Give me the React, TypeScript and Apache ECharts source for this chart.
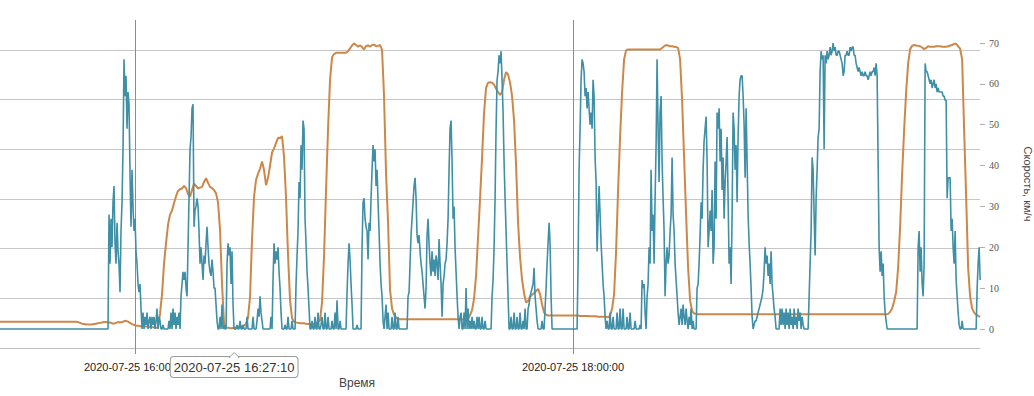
import React, { useEffect, useRef } from "react";
import * as echarts from "echarts";

// ---- data ----
const seriesStartTime = "2020-07-25T15:23:01Z";
const blueStepSec = 16.44;
const orangeStepSec = 32.88;
const axisMinTime = "2020-07-25T15:23:01Z";
const axisMaxTime = "2020-07-25T19:51:30Z";
const xTickTimes = ["2020-07-25T16:00:00Z", "2020-07-25T18:00:00Z"];
const pointerTime = "2020-07-25T16:27:10Z";
const speedTicks = [0, 10, 20, 30, 40, 50, 60, 70];
const gridLevels = { min: 0, max: 6.6, step: 1 };

const speedName = "Скорость, км/ч";
const timeName = "Время";

// orange: speed, km/h
const orangeValues = [
  1.8, 1.8, 1.8, 1.8, 1.8, 1.8, 1.8, 1.8, 1.8, 1.8,
  1.8, 1.8, 1.8, 1.8, 1.8, 1.8, 1.8, 1.8, 1.8, 1.8,
  1.8, 1.8, 1.8, 1.8, 1.8, 1.8, 1.8, 1.8, 1.8, 1.8,
  1.8, 1.8, 1.8, 1.8, 1.8, 1.8, 1.8, 1.8, 1.8, 1.7,
  1.5, 1.3, 1.2, 1.1, 1.1, 1.1, 1.1, 1.2, 1.3, 1.4,
  1.5, 1.6, 1.7, 1.7, 1.6, 1.6, 1.4, 1.3, 1.5, 1.7,
  1.6, 1.7, 1.9, 2.0, 1.8, 1.5, 1.2, 1.0, 0.8, 0.8,
  0.7, 0.7, 0.7, 0.6, 0.6, 0.5, 0.4, 0.4, 0.3, 0.3,
  3.8, 8.5, 16, 21, 25.5, 28, 29, 30.8, 32.5, 33.8,
  34.2, 34.4, 35, 34.5, 33, 32.4, 34, 35.6, 35, 34.4,
  34.6, 34.8, 36, 36.9, 35.8, 34.8, 34.5, 34, 33.2, 31,
  24.2, 11, 1.4, 0.4, 0.3, 0.2, 0.2, 0.3, 0.4, 0.5,
  0.6, 0.7, 0.9, 1.2, 2.8, 7.9, 22, 32.4, 36.5, 38,
  39.2, 41, 38.9, 35.2, 37, 40, 43.2, 44.2, 45.5, 46.8,
  46.7, 47.2, 42.2, 32, 18, 7, 2.6, 1.8, 1.6, 1.5,
  1.4, 1.4, 1.4, 1.3, 1.2, 1.2, 1.2, 1.3, 1.4, 1.7,
  2.2, 6.5, 18, 34, 49, 61, 66.5, 67.3, 67.6, 67.6,
  67.6, 67.6, 67.6, 67.6, 68, 68.7, 69.4, 69.9, 69.5, 69.1,
  69.4, 69, 68.4, 69.3, 69.4, 69.1, 69.5, 69.6, 69.2, 69.3,
  69.5, 68.3, 56.9, 38, 26, 9.5, 5, 3.5, 2.8, 2.4,
  2.4, 2.4, 2.4, 2.4, 2.4, 2.4, 2.4, 2.4, 2.4, 2.4,
  2.4, 2.4, 2.4, 2.4, 2.4, 2.4, 2.4, 2.4, 2.4, 2.4,
  2.4, 2.4, 2.4, 2.4, 2.4, 2.4, 2.4, 2.4, 2.4, 2.4,
  2.4, 2.4, 2.4, 2.4, 2.6, 3.4, 4.6, 7.5, 13, 22.5,
  32, 42, 53, 59, 60.3, 60.4, 60.3, 59.8, 58.8, 58,
  57.3, 58, 61, 62.9, 62.3, 60.3, 57, 51, 40, 26,
  17.5, 12, 8.7, 6.5, 6.8, 7.9, 8.4, 8.8, 9.3, 9.8,
  8.5, 6, 4, 3.5, 3.3, 3.3, 3.3, 3.3, 3.3, 3.3,
  3.3, 3.3, 3.3, 3.3, 3.3, 3.3, 3.3, 3.3, 3.3, 3.3,
  3.2, 3.2, 3.2, 3.2, 3.2, 3.1, 3.1, 3.1, 3.1, 3.0,
  3.0, 3.0, 3.0, 3.0, 2.9, 3.2, 5, 8.5, 19, 34,
  47, 58, 66, 68.2, 68.4, 68.4, 68.4, 68.4, 68.4, 68.4,
  68.4, 68.4, 68.4, 68.4, 68.4, 68.4, 68.4, 68.4, 68.4, 68.4,
  68.4, 68.8, 69.2, 69.5, 69.4, 69.2, 69.2, 69.1, 69, 68.8,
  66, 56, 42, 28, 15, 7, 4.4, 3.8, 3.7, 3.6,
  3.6, 3.6, 3.6, 3.6, 3.6, 3.6, 3.6, 3.6, 3.6, 3.6,
  3.6, 3.6, 3.6, 3.6, 3.6, 3.6, 3.6, 3.6, 3.6, 3.6,
  3.6, 3.6, 3.6, 3.6, 3.6, 3.6, 3.6, 3.6, 3.6, 3.6,
  3.6, 3.6, 3.6, 3.6, 3.6, 3.6, 3.6, 3.6, 3.6, 3.6,
  3.6, 3.6, 3.6, 3.6, 3.6, 3.6, 3.6, 3.6, 3.6, 3.6,
  3.6, 3.6, 3.6, 3.6, 3.6, 3.6, 3.6, 3.6, 3.6, 3.6,
  3.6, 3.6, 3.6, 3.6, 3.6, 3.6, 3.6, 3.6, 3.6, 3.6,
  3.6, 3.6, 3.6, 3.6, 3.6, 3.6, 3.6, 3.6, 3.6, 3.6,
  3.6, 3.6, 3.6, 3.6, 3.6, 3.6, 3.6, 3.6, 3.6, 3.6,
  3.6, 3.6, 3.6, 3.6, 3.7, 4.2, 5, 6.8, 9, 15,
  25, 38, 48.7, 58, 65, 68.5, 69.3, 69.5, 69.4, 69.3,
  69.2, 68.9, 68.5, 68.8, 69.2, 69.1, 69.1, 69.1, 69.2, 69.2,
  69.2, 69.1, 69.1, 69.1, 69.2, 69.4, 69.5, 69.8, 69.8, 69.2,
  68.6, 66, 48.7, 32.4, 15, 7.9, 5, 4, 3.5, 3.2,
  3,
];

// blue: speed, km/h (second source)
const blueValues = [
  0, 0, 0, 0, 0, 0, 0, 0, 0, 0,
  0, 0, 0, 0, 0, 0, 0, 0, 0, 0,
  0, 0, 0, 0, 0, 0, 0, 0, 0, 0,
  0, 0, 0, 0, 0, 0, 0, 0, 0, 0,
  0, 0, 0, 0, 0, 0, 0, 0, 0, 0,
  0, 0, 0, 0, 0, 0, 0, 0, 0, 0,
  0, 0, 0, 0, 0, 0, 0, 0, 0, 0,
  0, 0, 0, 0, 0, 0, 0, 0, 0, 0,
  0, 0, 0, 0, 0, 0, 0, 0, 0, 0,
  0, 0, 0, 0, 0, 0, 0, 0, 0, 0,
  0, 0, 0, 0, 0, 0, 0, 0, 0, 28,
  16, 27, 20, 31, 35, 21, 16, 26, 19, 16,
  9, 24, 31, 44, 66, 57, 62, 49, 58, 55,
  38, 25, 39, 30, 24, 27, 19, 16, 11, 9,
  11, 5, 0, 4, 0, 3, 1, 4, 0, 2,
  3, 0, 3, 1, 3, 0, 2, 5, 0, 3,
  2, 0, 0, 1, 0, 0, 0, 0, 0, 2,
  0, 4, 0, 5, 1, 4, 0, 3, 1, 4,
  0, 8, 11, 14, 12, 14, 10, 8, 20, 32,
  44, 47, 54, 55, 25, 29, 30, 32, 30, 24,
  16, 20, 16, 12, 18, 16, 21, 25, 20, 16,
  14, 13, 17, 14, 10, 10, 6, 2, 0, 0,
  3, 0, 6, 0, 1, 0, 0, 16, 21, 18,
  20, 11, 19, 6, 0, 0, 0, 1, 0, 0,
  2, 0, 0, 1, 0, 0, 0, 3, 0, 0,
  0, 0, 0, 3, 0, 0, 0, 2, 5, 3,
  8, 4, 2, 0, 0, 0, 0, 0, 0, 0,
  0, 3, 0, 12, 21, 16, 19, 17, 20, 14,
  10, 4, 0, 0, 0, 1, 0, 0, 3, 0,
  0, 0, 2, 0, 0, 0, 11, 18, 24, 36,
  32, 45, 39, 51, 49, 27, 21, 14, 10, 5,
  0, 0, 2, 0, 0, 3, 0, 0, 4, 0,
  0, 1, 3, 0, 0, 4, 0, 0, 3, 0,
  0, 0, 2, 0, 0, 4, 0, 7, 0, 0,
  2, 0, 0, 0, 0, 0, 0, 9, 16, 21,
  17, 11, 6, 0, 0, 0, 0, 1, 0, 0,
  0, 0, 20, 31, 32, 27, 25, 24, 17, 26,
  24, 32, 39, 45, 41, 44, 35, 39, 31, 24,
  16, 11, 8, 2, 0, 3, 6, 0, 4, 0,
  0, 0, 3, 0, 0, 4, 0, 0, 3, 0,
  0, 0, 0, 0, 0, 0, 0, 0, 8, 9,
  16, 23, 27, 31, 35, 37, 32, 23, 21, 23,
  19, 16, 14, 11, 8, 5, 10, 23, 27, 21,
  16, 13, 19, 14, 17, 13, 18, 16, 12, 22,
  16, 11, 3, 11, 13, 16, 17, 21, 27, 39,
  49, 51, 41, 27, 30, 20, 14, 8, 3, 0,
  3, 4, 0, 0, 4, 0, 10, 0, 5, 0,
  2, 0, 3, 0, 2, 0, 0, 3, 0, 3,
  0, 0, 3, 0, 0, 2, 0, 0, 0, 0,
  0, 0, 8, 12, 20, 32, 49, 61, 63, 67,
  65, 68, 61, 53, 41, 32, 24, 16, 8, 0,
  0, 3, 0, 0, 4, 0, 0, 3, 0, 0,
  4, 0, 0, 2, 0, 5, 0, 0, 5, 6,
  8, 9, 10, 11, 15, 8, 5, 2, 0, 0,
  0, 0, 2, 0, 0, 5, 10, 16, 21, 26,
  21, 8, 0, 0, 0, 0, 0, 0, 0, 0,
  0, 0, 0, 0, 0, 0, 0, 0, 0, 0,
  0, 0, 0, 0, 0, 0, 0, 0, 16, 39,
  49, 61, 66, 65, 63, 57, 59, 54, 58, 54,
  50, 53, 49, 61, 57, 42, 36, 19, 27, 35,
  28, 21, 16, 11, 8, 3, 0, 2, 0, 0,
  4, 0, 0, 3, 0, 0, 0, 4, 0, 0,
  5, 0, 0, 5, 0, 0, 0, 3, 0, 0,
  4, 0, 0, 0, 0, 2, 0, 0, 0, 0,
  1, 0, 12, 10, 11, 4, 0, 8, 11, 20,
  16, 39, 24, 28, 16, 32, 45, 66, 49, 36,
  53, 57, 41, 32, 24, 8, 16, 20, 16, 18,
  24, 28, 42, 28, 24, 16, 12, 8, 4, 1,
  3, 5, 1, 6, 3, 1, 5, 2, 0, 3,
  1, 5, 0, 2, 0, 0, 0, 10, 11, 16,
  23, 31, 27, 39, 46, 49, 52, 41, 20, 24,
  29, 24, 34, 16, 20, 41, 27, 53, 49, 54,
  41, 49, 34, 42, 27, 36, 41, 47, 32, 16,
  20, 11, 28, 53, 49, 39, 45, 31, 47, 57,
  61, 62, 62, 57, 50, 37, 54, 41, 28, 21,
  16, 10, 3, 0, 1, 2, 2, 3, 4, 5,
  6, 7, 8, 10, 14, 20, 16, 18, 13, 16,
  11, 19, 11, 8, 5, 3, 0, 0, 0, 0,
  5, 1, 5, 1, 4, 0, 5, 1, 4, 0,
  5, 1, 3, 0, 5, 1, 3, 0, 5, 2,
  4, 0, 3, 1, 0, 0, 0, 0, 0, 8,
  16, 24, 42, 39, 28, 18, 32, 39, 47, 49,
  63, 68, 66, 67, 44, 67, 65, 68, 66, 67,
  69, 67, 68, 70, 68, 69, 67, 67, 68, 68,
  67, 66, 65, 62, 63, 67, 67, 68, 67, 67,
  69, 68, 69, 69, 67, 67, 65, 64, 63, 64,
  63, 62, 63, 62, 62, 63, 62, 62, 61, 62,
  63, 62, 63, 63, 64, 62, 65, 62, 41, 20,
  14, 19, 13, 16, 8, 4, 2, 0, 0, 0,
  0, 0, 0, 0, 0, 0, 0, 0, 0, 0,
  0, 0, 0, 0, 0, 0, 0, 0, 0, 0,
  0, 0, 0, 0, 0, 0, 0, 0, 20, 24,
  14, 20, 11, 8, 16, 65, 63, 63, 62, 61,
  60, 61, 59, 60, 61, 59, 60, 58, 59, 58,
  58, 58, 58, 57, 57, 56, 56, 32, 37, 37,
  37, 24, 27, 20, 16, 24, 12, 8, 4, 1,
  0, 0, 2, 0, 0, 0, 0, 0, 0, 0,
  0, 0, 0, 0, 0, 0, 0, 10, 16, 20,
  12,
];

// ---- helpers ----
const ms = (s: string) => Date.parse(s);
const pad = (n: number) => String(n).padStart(2, "0");
const fmtTime = (v: number) => {
  const d = new Date(Math.round(v / 1000) * 1000);
  return (
    d.getUTCFullYear() + "-" + pad(d.getUTCMonth() + 1) + "-" + pad(d.getUTCDate()) +
    " " + pad(d.getUTCHours()) + ":" + pad(d.getUTCMinutes()) + ":" + pad(d.getUTCSeconds())
  );
};

export default function App() {
  const ref = useRef<HTMLDivElement | null>(null);

  useEffect(() => {
    if (!ref.current) return;
    const chart = echarts.init(ref.current, undefined, { renderer: "svg" });
    const t0 = ms(seriesStartTime);
    const orangeData = orangeValues.map((v, i) => [t0 + i * orangeStepSec * 1000, v]);
    const blueData = blueValues.map((v, i) => [t0 + i * blueStepSec * 1000, v]);
    const xTicks = xTickTimes.map(ms);
    const pointerMs = ms(pointerTime);

    chart.setOption({
      animation: false,
      grid: { left: 0, right: 54, top: 20, bottom: 48, containLabel: false, outerBoundsMode: "none" },
      xAxis: {
        type: "value",
        min: ms(axisMinTime),
        max: ms(axisMaxTime),
        axisLine: { show: true, lineStyle: { color: "#bdbdbd", width: 1 } },
        axisTick: { show: true, customValues: xTicks, length: 6, lineStyle: { color: "#8c8c8c" } },
        axisLabel: {
          customValues: xTicks,
          formatter: (v: number) => fmtTime(v),
          margin: 13,
          color: "#222",
          fontSize: 11,
          fontFamily: "Liberation Sans",
        },
        splitLine: { show: true, lineStyle: { color: "#8c8c8c", width: 1 } },
        name: timeName,
        nameLocation: "middle",
        nameGap: 26,
        nameTextStyle: { color: "#444", fontSize: 12, fontFamily: "Liberation Sans", padding: [0, 266, 0, 0] },
        axisPointer: {
          show: true,
          type: "line",
          value: pointerMs,
          status: "show",
          snap: false,
          triggerTooltip: false,
          lineStyle: { width: 0, opacity: 0 },
          label: {
            show: true,
            formatter: (p: any) => fmtTime(p.value),
            backgroundColor: "#fff",
            borderColor: "#9a9a9a",
            borderWidth: 1,
            color: "#333",
            fontSize: 13,
            fontFamily: "Liberation Sans",
            padding: [4, 3, 3, 3],
            margin: 9,
            shadowBlur: 0,
          },
        },
      },
      yAxis: [
        {
          type: "value",
          position: "left",
          min: gridLevels.min,
          max: gridLevels.max,
          interval: gridLevels.step,
          axisLine: { show: false },
          axisTick: { show: false },
          axisLabel: { show: false },
          splitLine: { show: true, showMaxLine: false, lineStyle: { color: "#c6c6c6", width: 1 } },
        },
        {
          type: "value",
          position: "right",
          min: -4.65,
          max: 75.63,
          axisLine: { show: false },
          axisTick: { show: true, customValues: speedTicks, length: 5, lineStyle: { color: "#b0b0b0" } },
          axisLabel: {
            customValues: speedTicks,
            margin: 9,
            fontSize: 10,
            color: "#555",
            fontFamily: "Liberation Serif",
          },
          splitLine: { show: false },
          name: speedName,
          nameLocation: "middle",
          nameRotate: -90,
          nameGap: 42,
          nameTextStyle: { color: "#444", fontSize: 11, fontFamily: "Liberation Sans" },
        },
      ],
      series: [
        {
          name: "Скорость",
          type: "line",
          yAxisIndex: 1,
          data: orangeData,
          showSymbol: false,
          symbol: "none",
          lineStyle: { color: "#cd8748", width: 2 },
          itemStyle: { color: "#cd8748" },
          z: 2,
        },
        {
          name: "Скорость (датчик)",
          type: "line",
          yAxisIndex: 1,
          data: blueData,
          showSymbol: false,
          symbol: "none",
          lineStyle: { color: "#3f8fa6", width: 1.6 },
          itemStyle: { color: "#3f8fa6" },
          z: 3,
        },
      ],
    });

    const px = chart.convertToPixel({ xAxisIndex: 0 }, pointerMs) as number;
    chart.setOption({
      graphic: [
        {
          type: "polygon",
          z: 200,
          shape: { points: [[px - 5, 357.5], [px, 352.5], [px + 5, 357.5]] },
          style: { fill: "#fff", stroke: "#9a9a9a", lineWidth: 1 },
        },
        {
          type: "line",
          z: 201,
          shape: { x1: px - 4, y1: 357.5, x2: px + 4, y2: 357.5 },
          style: { stroke: "#fff", lineWidth: 1.5 },
        },
      ],
    });

    return () => chart.dispose();
  }, []);

  return (
    <div
      ref={ref}
      style={{ position: "fixed", left: 0, top: 0, width: 1034, height: 396, background: "#fff" }}
    />
  );
}
